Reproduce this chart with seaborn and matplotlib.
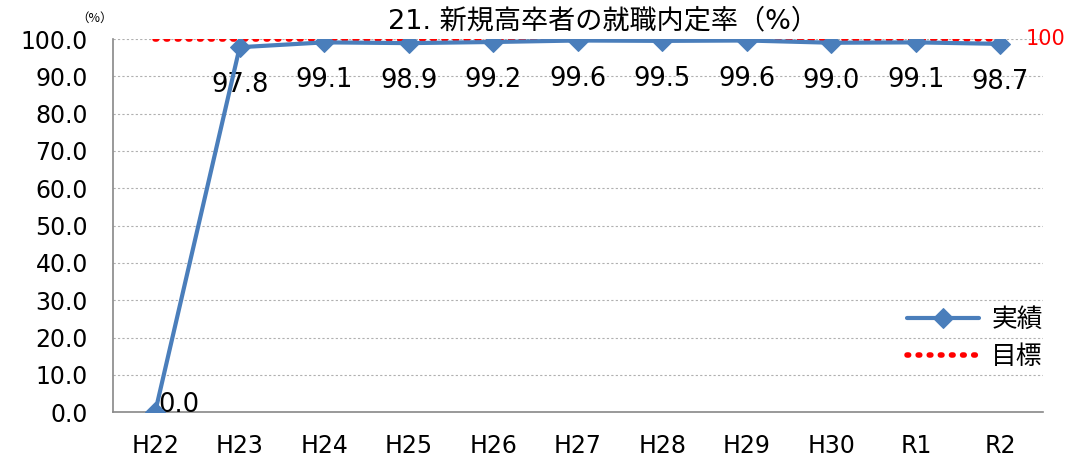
import seaborn as sns
import matplotlib.pyplot as plt
import pandas as pd

# data
years = ['H22', 'H23', 'H24', 'H25', 'H26', 'H27', 'H28', 'H29', 'H30', 'R1', 'R2']
actual = [0.0, 97.8, 99.1, 98.9, 99.2, 99.6, 99.5, 99.6, 99.0, 99.1, 98.7]
target = [100] * len(years)

sns.set_theme(style='white')
plt.rcParams['font.family'] = ['DejaVu Sans', 'Noto Sans CJK JP']
plt.rcParams['text.color'] = 'black'
plt.rcParams['xtick.labelcolor'] = 'black'
plt.rcParams['ytick.labelcolor'] = 'black'
LAT = ['DejaVu Sans']
MIX = ['DejaVu Sans', 'Noto Sans CJK JP']
CJK = ['Noto Sans CJK JP', 'DejaVu Sans']

df = pd.DataFrame({'year': years, 'actual': actual, 'target': target})
df['x'] = range(len(years))

fig, ax = plt.subplots(figsize=(10.75, 4.7), dpi=100)
fig.subplots_adjust(left=0.105, right=0.97, top=0.917, bottom=0.123)

# Gridlines
ax.yaxis.grid(True, color='#b0b0b0', linestyle=(0, (2, 2)), linewidth=0.8)
ax.set_axisbelow(True)

# Target line
sns.lineplot(data=df, x='x', y='target', ax=ax, color='red', linestyle=(0, (0.3, 1.7)),
             linewidth=4, dash_capstyle='round', label='目標', zorder=3)
# Actual line
sns.lineplot(data=df, x='x', y='actual', ax=ax, color='#4a7ebb', linewidth=3,
             marker='D', markersize=10.5, markeredgecolor='#4a7ebb', label='実績', zorder=4)

ax.set_xlim(-0.5, len(years) - 0.5)
ax.set_ylim(0, 100)
ax.set_yticks(range(0, 101, 10))
ax.set_yticklabels([f'{v:.1f}' for v in range(0, 101, 10)], fontsize=17, family=LAT)
ax.set_xticks(df['x'])
ax.set_xticklabels(years, fontsize=17, family=LAT)
ax.set_xticks([i - 0.5 for i in range(len(years) + 1)], minor=True)
ax.tick_params(axis='x', which='major', length=0, pad=16)
ax.tick_params(axis='x', which='minor', length=7, color='#888888', width=1.2, direction='out')
ax.tick_params(axis='y', length=6, color='#888888', width=1.2, direction='out', pad=12)
ax.set_xlabel('')
ax.set_ylabel('')

for s in ['top', 'right']:
    ax.spines[s].set_visible(False)
for s in ['left', 'bottom']:
    ax.spines[s].set_color('#888888')
    ax.spines[s].set_linewidth(1.2)

# Data labels
for i, v in enumerate(actual):
    if i == 0:
        ax.annotate(f'{v:.1f}', (i, v), xytext=(2, -4), textcoords='offset points',
                    ha='left', va='bottom', fontsize=18.5, family=LAT, annotation_clip=False)
    else:
        ax.annotate(f'{v:.1f}', (i, v), xytext=(0, -18), textcoords='offset points',
                    ha='center', va='top', fontsize=18.5, family=LAT)
ax.annotate('100', (len(years) - 1, 100), xytext=(18, 0), textcoords='offset points',
            ha='left', va='center', fontsize=15, color='red', family=LAT,
            annotation_clip=False)

fig.text(0.561, 0.955, '21. 新規高卒者の就職内定率（%）', fontsize=19.5, ha='center',
         va='center', family=MIX)
fig.text(0.088, 0.962, '（%）', fontsize=9, ha='center', va='center', family=CJK)

handles, labels = ax.get_legend_handles_labels()
leg = ax.legend(handles[::-1], labels[::-1], loc='lower right', bbox_to_anchor=(1.025, 0.05),
                frameon=False, handlelength=2.8, labelspacing=0.45, handletextpad=0.5,
                prop={'family': CJK, 'size': 18.5})

plt.savefig('out.png', dpi=100)
plt.close(fig)
